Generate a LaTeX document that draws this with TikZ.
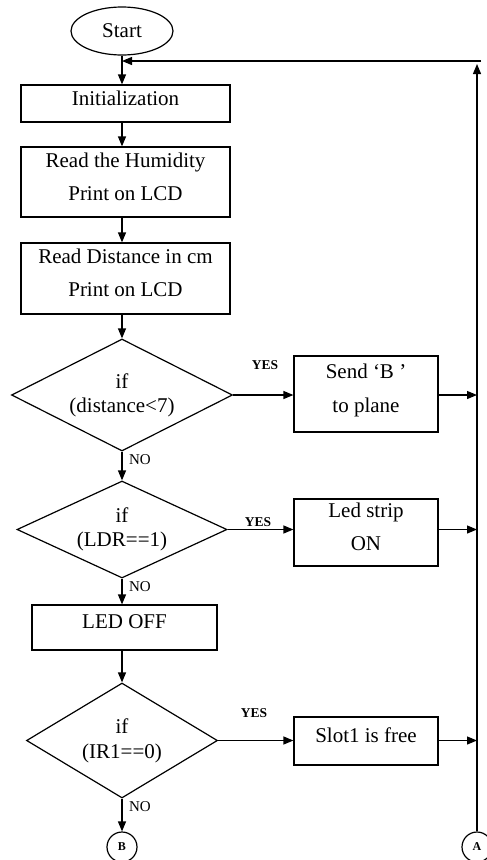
\documentclass[tikz,border=0pt]{standalone}
\usepackage{fontspec}
\setmainfont{Liberation Serif}
\usetikzlibrary{shapes.geometric,arrows.meta}
\begin{document}
\begin{tikzpicture}[x=1pt,y=-1pt,line width=1.2pt,>={Triangle[length=10pt,width=8pt]},
  every node/.style={font=\fontsize{21}{24}\selectfont},
  box/.style={draw,rectangle,align=center,inner sep=2pt,text depth=11pt},
  test/.style={draw,diamond,shape aspect=2,inner sep=0pt,align=center},
  tag/.style={font=\fontsize{15}{17}\selectfont,inner sep=0pt},
  yes/.style={font=\fontsize{13.5}{16}\selectfont\bfseries,inner sep=0pt},
  conn/.style={draw,circle,minimum size=30pt,inner sep=0pt,font=\fontsize{12}{14}\selectfont\bfseries}]
\useasboundingbox (0,0) rectangle (487,860);
% main column
\node[draw,ellipse,minimum width=102pt,minimum height=48pt,inner sep=0pt] (start) at (122,31) {Start};
\node[box,minimum width=209pt,minimum height=37pt] (init) at (125.5,103.5) {Initialization};
\node[box,minimum width=209pt,minimum height=70pt] (hum) at (125.5,182) {Read the Humidity\\[9pt] Print on LCD};
\node[box,minimum width=209pt,minimum height=71pt] (dist) at (125.5,278.5) {Read Distance in cm\\[9pt] Print on LCD};
\node[test,minimum width=221pt,minimum height=112pt] (d1) at (122,395) {if\\ (distance<7)};
\node[test,minimum width=210pt,minimum height=97pt] (d2) at (122,529.5) {if\\ (LDR==1)};
\node[box,minimum width=185pt,minimum height=45pt] (ledoff) at (124.5,627.5) {LED OFF};
\node[test,minimum width=191pt,minimum height=115pt] (d3) at (122,740.5) {if\\[1pt] (IR1==0)};
\node[conn] (B) at (122,847) {B};
% right column
\node[box,minimum width=144pt,minimum height=76pt] (sendb) at (366,394) {Send `B '\\[10pt] to plane};
\node[box,minimum width=144pt,minimum height=67pt] (strip) at (366,532.5) {Led strip\\[9pt] ON};
\node[box,minimum width=144pt,minimum height=48pt] (slot) at (366,741) {Slot1 is free};
\node[conn] (A) at (477,847) {A};
\coordinate (back) at (122,61);
\coordinate (corner) at (481,61);
% labels
\node[yes] (y1) at (265,365) {YES};
\node[yes] (y2) at (258,522) {YES};
\node[yes] (y3) at (254,713) {YES};
\node[tag] (n1) at (140,460) {NO};
\node[tag] (n2) at (140,587) {NO};
\node[tag] (n3) at (140,807) {NO};
% flow
\draw[->] (start) -- (init.north -| start);
\draw[->] (init.south -| start) -- (hum.north -| start);
\draw[->] (hum.south -| start) -- (dist.north -| start);
\draw[->] (dist.south -| d1) -- (d1);
\draw[->] (d1) -- (d2);
\draw[->] (d2) -- (d2 |- ledoff.north);
\draw[->] (ledoff.south -| d3) -- (d3);
\draw[->] (d3) -- (B);
\draw[->] (d1) -- (sendb.west |- d1);
\draw[->] (d2) -- (strip.west |- d2);
\draw[->] (d3) -- (slot.west |- d3);
\draw[->] (sendb.east |- d1) -- (A |- d1);
\draw[->] (strip.east |- d2) -- (A |- d2);
\draw[->] (slot.east |- d3) -- (A |- d3);
\draw[->,shorten >=3pt] (A) -- (A |- corner);
\draw[->] (corner) -- (back);
\end{tikzpicture}
\end{document}
